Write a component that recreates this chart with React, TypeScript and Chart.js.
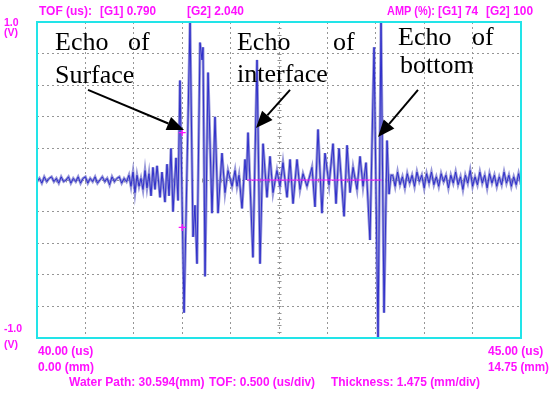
import React, { useEffect, useRef } from 'react';
import { Chart, registerables } from 'chart.js';

Chart.register(...registerables);

// ---- axis ranges (us, V) ----
const X_MIN = 40;
const X_MAX = 45;
const X_STEP = 0.5;
const Y_MIN = -1;
const Y_MAX = 1;
const Y_STEP = 0.2;

// ---- waveform segments: [time (us), amplitude (V)] ----
const preNoise: number[][] = [
  [40.0, -0.01], [40.025, 0.01], [40.05, -0.02], [40.075, 0.02], [40.1, -0.01], [40.125, 0.01],
  [40.15, 0.02], [40.175, -0.01], [40.2, 0.01], [40.225, -0.02], [40.25, 0.02], [40.275, -0.01],
  [40.3, 0.0], [40.325, 0.02], [40.35, -0.02], [40.375, 0.01], [40.4, -0.01], [40.425, 0.02],
  [40.45, -0.02], [40.475, 0.01], [40.5, 0.02], [40.525, -0.02], [40.55, 0.01], [40.575, -0.01],
  [40.6, 0.02], [40.625, -0.02], [40.65, 0.0], [40.675, 0.02], [40.7, -0.01], [40.725, 0.01],
  [40.75, -0.03], [40.775, 0.02], [40.8, -0.01], [40.825, 0.01], [40.85, 0.02], [40.875, -0.02],
  [40.9, 0.01], [40.925, -0.01], [40.95, 0.03],
];

const leadBurst: number[][] = [
  [40.971, -0.04], [40.992, 0.05], [41.012, -0.08], [41.033, 0.03], [41.054, -0.04], [41.074, 0.01],
  [41.095, -0.06], [41.116, 0.06], [41.136, -0.05], [41.157, 0.04], [41.178, -0.1], [41.198, 0.08],
  [41.219, -0.06], [41.24, 0.09], [41.271, -0.11], [41.291, 0.05], [41.322, -0.14], [41.343, 0.1],
];

const surfaceEcho: number[][] = [
  [41.364, -0.1], [41.384, 0.2], [41.405, -0.2], [41.436, 0.14], [41.457, -0.13], [41.477, 0.63],
  [41.519, -0.84], [41.581, 1.0], [41.612, -0.36], [41.632, -0.16], [41.653, -0.53], [41.684, 0.87],
  [41.705, 0.76], [41.715, 0.84], [41.736, -0.61], [41.767, 0.68], [41.808, -0.21], [41.839, 0.4],
  [41.87, -0.21], [41.911, 0.17], [41.942, -0.08], [41.973, 0.06], [42.015, -0.04], [42.046, 0.06],
];

const interfaceEcho: number[][] = [
  [42.066, -0.04], [42.087, 0.03], [42.118, -0.18], [42.149, 0.13], [42.163, 0.0], [42.18, 0.3],
  [42.231, -0.49], [42.273, 0.76], [42.304, -0.53], [42.335, 0.23], [42.376, -0.11], [42.407, 0.15],
  [42.438, -0.08], [42.479, 0.06], [42.51, -0.04], [42.541, 0.11], [42.583, -0.11], [42.614, 0.13],
  [42.645, -0.15], [42.686, 0.13], [42.717, -0.06], [42.748, 0.04], [42.789, -0.04], [42.841, 0.08],
  [42.872, -0.17], [42.903, 0.32], [42.944, -0.21], [42.975, 0.17], [43.017, -0.03], [43.058, 0.23],
  [43.089, -0.15], [43.12, 0.2], [43.172, -0.23], [43.203, 0.22], [43.234, -0.08], [43.265, 0.08],
  [43.306, -0.06], [43.337, 0.15], [43.368, -0.04], [43.399, 0.11],
];

const bottomEcho: number[][] = [
  [43.44, -0.38], [43.482, 0.84], [43.523, -1.0], [43.554, 1.0], [43.585, -0.84], [43.616, 0.25],
  [43.637, -0.09], [43.657, 0.03],
];

const tailNoise: number[][] = [
  [43.675, 0.03], [43.7, -0.04], [43.725, 0.05], [43.75, -0.03], [43.775, 0.02], [43.8, -0.05],
  [43.825, 0.04], [43.85, -0.02], [43.875, 0.03], [43.9, -0.04], [43.925, 0.05], [43.95, -0.01],
  [43.975, 0.03], [44.0, -0.05], [44.025, 0.04], [44.05, -0.02], [44.075, 0.05], [44.1, -0.03],
  [44.125, 0.02], [44.15, -0.04], [44.175, 0.04], [44.2, -0.01], [44.225, 0.03], [44.25, -0.05],
  [44.275, 0.03], [44.3, -0.02], [44.325, 0.05], [44.35, -0.03], [44.375, 0.02], [44.4, -0.06],
  [44.425, 0.03], [44.45, -0.02], [44.475, 0.06], [44.5, -0.04], [44.525, 0.02], [44.55, -0.03],
  [44.575, 0.05], [44.6, -0.02], [44.625, 0.03], [44.65, -0.05], [44.675, 0.04], [44.7, -0.02],
  [44.725, 0.03], [44.75, -0.04], [44.775, 0.02], [44.8, -0.03], [44.825, 0.05], [44.85, -0.02],
  [44.875, 0.03], [44.9, -0.04], [44.925, 0.02], [44.95, -0.03], [44.975, 0.04], [45.0, -0.03],
];

// ---- gates ----
const gate2Line: number[][] = [[42.17, 0], [43.56, 0]];
const gate1Marks: number[][] = [[41.5, 0.3], [41.5, -0.3]];

// ---- annotations (data units) ----
const echoLabels = [
  { text: 'Echo', t: 40.186, v: 0.823 },
  { text: 'of', t: 40.94, v: 0.823 },
  { text: 'Surface', t: 40.186, v: 0.614 },
  { text: 'Echo', t: 42.066, v: 0.823 },
  { text: 'of', t: 43.058, v: 0.823 },
  { text: 'interface', t: 42.066, v: 0.62 },
  { text: 'Echo', t: 43.73, v: 0.854 },
  { text: 'of', t: 44.494, v: 0.854 },
  { text: 'bottom', t: 43.75, v: 0.677 },
];
const echoArrows = [
  { from: [40.527, 0.57], to: [41.519, 0.316] },
  { from: [42.614, 0.57], to: [42.262, 0.329] },
  { from: [43.936, 0.57], to: [43.523, 0.272] },
];

// ---- instrument readout texts ----
const headerTexts = [
  { text: 'TOF (us):', x: 39, y: 12, w: 53 },
  { text: '[G1] 0.790', x: 100, y: 12, w: 56 },
  { text: '[G2] 2.040', x: 187, y: 12, w: 57 },
  { text: 'AMP (%):', x: 387, y: 12, w: 48 },
  { text: '[G1] 74', x: 438, y: 12, w: 40 },
  { text: '[G2] 100', x: 486, y: 12, w: 47 },
];
const sideTexts = [
  { text: '1.0', x: 4, y: 23, w: 16 },
  { text: '(V)', x: 4, y: 33, w: 14 },
  { text: '-1.0', x: 4, y: 329, w: 21 },
  { text: '(V)', x: 4, y: 345, w: 14 },
];
const axisTexts = [
  { text: '40.00 (us)', x: 38, y: 352, w: 56 },
  { text: '0.00 (mm)', x: 38, y: 368, w: 56 },
  { text: '45.00 (us)', x: 488, y: 352, w: 56 },
  { text: '14.75 (mm)', x: 488, y: 368, w: 61 },
  { text: 'Water Path: 30.594(mm)', x: 69, y: 383, w: 136 },
  { text: 'TOF: 0.500 (us/div)', x: 209, y: 383, w: 106 },
  { text: 'Thickness: 1.475 (mm/div)', x: 331, y: 383, w: 149 },
];

const MAGENTA = '#ff10ff';
const CYAN = '#22e4e8';
const GRID = '#969696';

const toXY = (arr: number[][]) => arr.map(([x, y]) => ({ x, y }));

const overlayPlugin = {
  id: 'scopeOverlay',
  beforeDatasetsDraw(chart: any) {
    const { ctx, scales } = chart;
    const x = scales.x;
    const y = scales.y;
    ctx.save();
    ctx.strokeStyle = GRID;
    ctx.lineWidth = 1;
    const xc = Math.round(x.getPixelForValue((X_MIN + X_MAX) / 2)) + 0.5;
    const yc = Math.round(y.getPixelForValue(0)) + 0.5;
    ctx.beginPath();
    for (let k = 1; k < 50; k++) {
      const py = Math.round(y.getPixelForValue(Y_MIN + k * (Y_STEP / 5))) + 0.5;
      ctx.moveTo(xc - 2, py);
      ctx.lineTo(xc + 2, py);
    }
    for (let k = 1; k < 50; k++) {
      const px = Math.round(x.getPixelForValue(X_MIN + k * (X_STEP / 5))) + 0.5;
      ctx.moveTo(px, yc - 2);
      ctx.lineTo(px, yc + 2);
    }
    ctx.stroke();
    ctx.restore();
  },
  afterDraw(chart: any) {
    const { ctx, chartArea: a, scales } = chart;
    const x = scales.x;
    const y = scales.y;
    ctx.save();
    // cyan frame
    ctx.strokeStyle = CYAN;
    ctx.lineWidth = 2;
    ctx.strokeRect(a.left, a.top, a.right - a.left, a.bottom - a.top);

    // readouts
    ctx.fillStyle = MAGENTA;
    ctx.textBaseline = 'middle';
    ctx.textAlign = 'left';
    ctx.font = 'bold 12px "Liberation Sans", Arial, sans-serif';
    headerTexts.forEach((h) => ctx.fillText(h.text, h.x, h.y, h.w));
    axisTexts.forEach((h) => ctx.fillText(h.text, h.x, h.y, h.w));
    ctx.font = 'bold 10.5px "Liberation Sans", Arial, sans-serif';
    sideTexts.forEach((h) => ctx.fillText(h.text, h.x, h.y, h.w));

    // echo labels
    ctx.fillStyle = '#000';
    ctx.textBaseline = 'alphabetic';
    ctx.font = '26px "Liberation Serif", "Times New Roman", serif';
    echoLabels.forEach((l) => ctx.fillText(l.text, x.getPixelForValue(l.t), y.getPixelForValue(l.v)));

    // arrows
    ctx.strokeStyle = '#000';
    ctx.lineWidth = 2;
    echoArrows.forEach((ar) => {
      const x0 = x.getPixelForValue(ar.from[0]);
      const y0 = y.getPixelForValue(ar.from[1]);
      const x1 = x.getPixelForValue(ar.to[0]);
      const y1 = y.getPixelForValue(ar.to[1]);
      const ang = Math.atan2(y1 - y0, x1 - x0);
      const headLen = 17;
      const headW = 7;
      const bx = x1 - headLen * Math.cos(ang);
      const by = y1 - headLen * Math.sin(ang);
      ctx.beginPath();
      ctx.moveTo(x0, y0);
      ctx.lineTo(bx, by);
      ctx.stroke();
      ctx.beginPath();
      ctx.moveTo(x1, y1);
      ctx.lineTo(bx + headW * Math.sin(ang), by - headW * Math.cos(ang));
      ctx.lineTo(bx - headW * Math.sin(ang), by + headW * Math.cos(ang));
      ctx.closePath();
      ctx.fillStyle = '#000';
      ctx.fill();
    });
    ctx.restore();
  },
};

export default function App() {
  const ref = useRef<HTMLCanvasElement | null>(null);

  useEffect(() => {
    if (!ref.current) return;
    const wave = toXY([...preNoise, ...leadBurst, ...surfaceEcho, ...interfaceEcho, ...bottomEcho, ...tailNoise]);
    const chart = new Chart(ref.current, {
      type: 'line',
      data: {
        datasets: [
          {
            data: toXY(gate1Marks),
            type: 'scatter',
            showLine: false,
            pointStyle: 'cross',
            pointRadius: 3.5,
            borderColor: MAGENTA,
            borderWidth: 1.2,
            order: 0,
          } as any,
          {
            data: toXY(gate2Line),
            borderColor: MAGENTA,
            borderWidth: 1,
            pointRadius: 0,
            order: 1,
          },
          {
            data: wave,
            borderColor: '#2525c8',
            borderWidth: 0.9,
            pointRadius: 0,
            tension: 0,
            order: 2,
          },
          {
            data: wave,
            borderColor: 'rgba(125,125,208,0.8)',
            borderWidth: 2.8,
            pointRadius: 0,
            tension: 0,
            order: 3,
          },
        ],
      },
      options: {
        animation: false,
        responsive: false,
        devicePixelRatio: 1,
        parsing: true,
        layout: { padding: { left: 37, right: 29, top: 22, bottom: 56 } },
        plugins: { legend: { display: false }, tooltip: { enabled: false }, title: { display: false } },
        scales: {
          x: {
            type: 'linear',
            min: X_MIN,
            max: X_MAX,
            ticks: { display: false, stepSize: X_STEP },
            grid: { color: GRID, drawTicks: false, lineWidth: 1 },
            border: { display: false, dash: [2, 3] },
          },
          y: {
            type: 'linear',
            min: Y_MIN,
            max: Y_MAX,
            ticks: { display: false, stepSize: Y_STEP },
            grid: { color: GRID, drawTicks: false, lineWidth: 1 },
            border: { display: false, dash: [2, 3] },
          },
        },
      },
      plugins: [overlayPlugin],
    });
    return () => chart.destroy();
  }, []);

  return (
    <div style={{ position: 'fixed', left: 0, top: 0, width: 550, height: 394, background: '#fff' }}>
      <canvas ref={ref} width={550} height={394} style={{ display: 'block', width: 550, height: 394 }} />
    </div>
  );
}
